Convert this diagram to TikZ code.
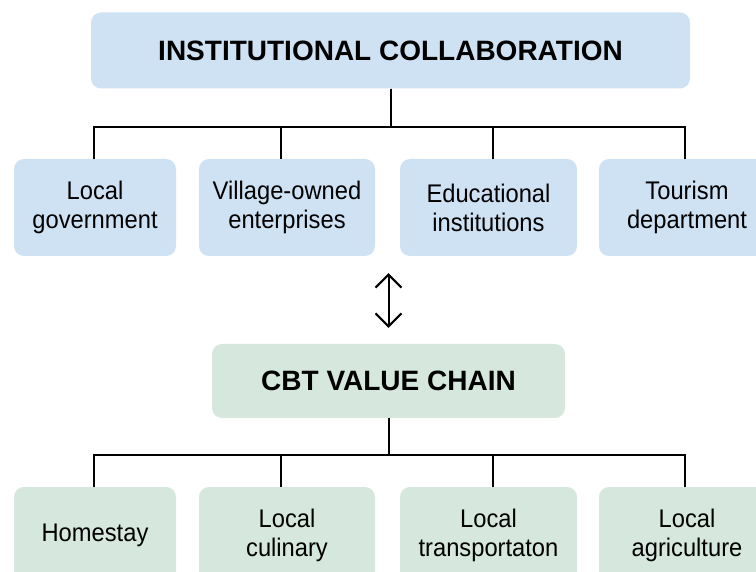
\documentclass[tikz,border=0pt]{standalone}
\usepackage{fontspec}
\setmainfont{Liberation Sans}
\newfontfamily\narrowfont[FakeStretch=0.93]{Liberation Sans}
\usetikzlibrary{arrows.meta}
\definecolor{instblue}{RGB}{207,226,243}
\definecolor{chaingreen}{RGB}{214,232,221}

\begin{document}
\begin{tikzpicture}[x=1pt,y=-1pt,
  head/.style={rounded corners=10pt, minimum height=76pt, inner sep=0pt, font=\bfseries\fontsize{28}{32}\selectfont},
  part/.style={rounded corners=10pt, minimum height=97pt, inner sep=0pt, align=center, font=\narrowfont\fontsize{25.5}{29}\selectfont},
  link/.style={line width=2pt},
  barb/.style={{Straight Barb[length=13pt,width=26pt]}-{Straight Barb[length=13pt,width=26pt]}}]
\clip (0,0) rectangle (756,572);
\fill [white] (0,0) rectangle (756,572);

% institutions
\node [head, fill=instblue, minimum width=599pt] (inst) at (390.5,50.5) {INSTITUTIONAL COLLABORATION};
\node [part, fill=instblue, minimum width=162pt] (gov) at (95,207.5) {Local\\government};
\node [part, fill=instblue, minimum width=176pt] (bumdes) at (287,207.5) {Village-owned\\enterprises};
\node [part, fill=instblue, minimum width=177pt] (edu) at (488.5,207.5) {Educational\\institutions};
\node [part, fill=instblue, minimum width=176pt] (dept) at (687,207.5) {Tourism\\department};

\draw [link] (inst.south) -- ++(0,38) -| ([xshift=-1pt]gov.north);
\draw [link] (inst.south) -- ++(0,38) -| ([xshift=-6pt]bumdes.north);
\draw [link] (inst.south) -- ++(0,38) -| ([xshift=4.5pt]edu.north);
\draw [link] (inst.south) -- ++(0,38) -| ([xshift=-2pt]dept.north);

% value chain
\node [head, fill=chaingreen, minimum width=353pt, minimum height=74pt] (cbt) at (388.5,381) {CBT VALUE CHAIN};
\node [part, fill=chaingreen, minimum width=162pt] (stay) at (95,535.5) {Homestay};
\node [part, fill=chaingreen, minimum width=176pt] (food) at (287,535.5) {Local\\culinary};
\node [part, fill=chaingreen, minimum width=177pt] (trans) at (488.5,535.5) {Local\\transportaton};
\node [part, fill=chaingreen, minimum width=176pt] (agri) at (687,535.5) {Local\\agriculture};

\draw [link] (cbt.south) -- ++(0,37) -| ([xshift=-1pt]stay.north);
\draw [link] (cbt.south) -- ++(0,37) -| ([xshift=-6pt]food.north);
\draw [link] (cbt.south) -- ++(0,37) -| ([xshift=4.5pt]trans.north);
\draw [link] (cbt.south) -- ++(0,37) -| ([xshift=-2pt]agri.north);

\draw [link, barb, shorten <=17pt, shorten >=16pt] (cbt.north |- edu.south) -- (cbt.north);
\end{tikzpicture}
\end{document}
